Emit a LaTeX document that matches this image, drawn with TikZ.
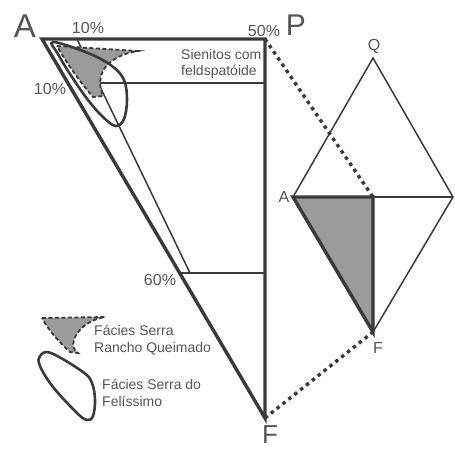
\documentclass[tikz,border=0pt]{standalone}
\usepackage{fontspec}
\setmainfont{Liberation Sans}
\definecolor{triLine}{RGB}{58,58,58}
\definecolor{triText}{RGB}{85,85,85}
\definecolor{triFill}{RGB}{155,155,155}
\tikzset{
  thickedge/.style={line width=3.4pt, draw=triLine, line join=miter},
  thinedge/.style={line width=1.5pt, draw=triLine},
  dotlink/.style={line width=3.4pt, draw=triLine, dash pattern=on 3.5pt off 4pt},
  rqfield/.style={fill=triFill, draw=triLine, line width=1.8pt, dash pattern=on 4pt off 2.5pt},
  fefield/.style={draw=triLine, line width=2.6pt},
  bigvtx/.style={text=triText, inner sep=0pt},
  pct/.style={text=triText, inner sep=0pt, font=\fontsize{16}{18}\selectfont},
  legtext/.style={text=triText, inner sep=0pt, align=left, anchor=west, font=\fontsize{14}{16.5}\selectfont}
}
\begin{document}
\begin{tikzpicture}[x=1pt, y=-1pt]
  \useasboundingbox (0,0) rectangle (455,451);
  % main triangle A-P-F
  \coordinate (A) at (42,39);
  \coordinate (P) at (265,39);
  \coordinate (F) at (265,418);
  \coordinate (t1) at (77,39);
  \coordinate (t2) at (190,273);
  \coordinate (h1) at (99,83);
  \coordinate (h1e) at (265,83);
  \coordinate (h2) at (180,273);
  \coordinate (h2e) at (265,273);
  % diamond
  \coordinate (Q) at (373,58);
  \coordinate (dA) at (293,197);
  \coordinate (dR) at (453,197);
  \coordinate (dM) at (373,197);
  \coordinate (dF) at (373,332);

  \draw[thinedge] (t1) -- (t2);
  \draw[thinedge] (h1) -- (h1e);
  \draw[thinedge] (h2) -- (h2e);

  % Rancho Queimado field
  \draw[rqfield] (57,46) -- (138,51) .. controls (118,54) and (104,64) .. (101,76)
    .. controls (99,85) and (101,91) .. (103,96) -- (93,97)
    .. controls (80,82) and (66,62) .. cycle;
  % Felissimo field
  \draw[fefield] plot[smooth cycle, tension=0.6] coordinates {(53,42) (88,53) (112,66) (124,80) (127,100) (124,119) (116,126) (104,118) (88,100) (70,74) (58,54)};

  \draw[thickedge] (A) -- (P) -- (F) -- cycle;

  \node[legtext] (sien) at (181,64) {Sienitos com\\feldspatóide};

  % diamond
  \fill[triFill] (dA) -- (dM) -- (dF) -- cycle;
  \draw[thinedge] (dA) -- (Q) -- (dR) -- (dF);
  \draw[thinedge] (dM) -- (dR);
  \draw[thickedge] (dA) -- (dM) -- (dF) -- cycle;

  \draw[dotlink] (P) -- (dM);
  \draw[dotlink] (F) -- (dF);

  % vertex labels
  \node[bigvtx, font=\fontsize{33}{33}\selectfont] (lA) at (25,26) {A};
  \node[bigvtx, font=\fontsize{30}{30}\selectfont] (lP) at (296,25) {P};
  \node[bigvtx, font=\fontsize{26}{26}\selectfont] (lF) at (270,435) {F};
  \node[pct] (pTop) at (88,28) {10\%};
  \node[pct] (pLeft) at (50,89) {10\%};
  \node[pct] (pFifty) at (264,31) {50\%};
  \node[pct] (pSixty) at (160,280) {60\%};
  \node[pct] (lQ) at (374,46) {Q};
  \node[pct] (ldA) at (284,197) {A};
  \node[pct] (ldF) at (378,348) {F};

  % legend
  \draw[rqfield] (42,318) -- (105,317) .. controls (88,320) and (77,330) .. (74,340)
    .. controls (72,346) and (74,350) .. (78,353) -- (70,352)
    .. controls (62,345) and (48,330) .. cycle;
  \node[legtext] (legRQ) at (94,340) {Fácies Serra\\Rancho Queimado};
  \draw[fefield] plot[smooth cycle, tension=0.6] coordinates {(40,356) (51,353) (83,372) (92,383) (95,400) (93,416) (87,420) (77,413) (53,387) (40,366)};
  \node[legtext] (legFE) at (102,393) {Fácies Serra do\\Felíssimo};
\end{tikzpicture}
\end{document}
